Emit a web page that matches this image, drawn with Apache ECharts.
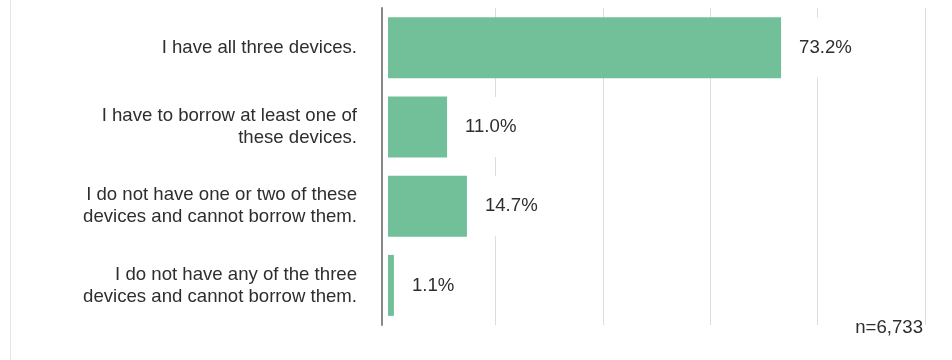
<!DOCTYPE html>
<html>
<head>
<meta charset="utf-8">
<title>Device access</title>
<script src="https://cdn.jsdelivr.net/npm/echarts@6/dist/echarts.min.js"></script>
<style>
  html, body { margin: 0; padding: 0; background: #fff; }
  #chart { width: 952px; height: 360px; }
</style>
</head>
<body>
<div id="chart"></div>
<script>
// Survey answers about device access (share of respondents, %)
const categories = [
  'I have all three devices.',
  'I have to borrow at least one of\nthese devices.',
  'I do not have one or two of these\ndevices and cannot borrow them.',
  'I do not have any of the three\ndevices and cannot borrow them.'
];
const shares = [73.2, 11.0, 14.7, 1.1];
const sampleNote = 'n=6,733';

const FONT = '"Liberation Sans", Arial, Helvetica, sans-serif';
const FS = 18.6;
const TEXT = '#2e2e2e';
const BAR = '#72c09a';

const chart = echarts.init(document.getElementById('chart'), null, { renderer: 'canvas' });

chart.setOption({
  animation: false,
  backgroundColor: '#ffffff',
  textStyle: { fontFamily: FONT },
  title: {
    text: sampleNote,
    right: 27,
    top: 303,
    padding: [15, 2, 2, 2],
    backgroundColor: '#ffffff',
    textStyle: { fontFamily: FONT, fontSize: FS, fontWeight: 'normal', color: TEXT, lineHeight: 19 }
  },
  grid: { left: 388, right: 27, top: 8, bottom: 35, containLabel: false },
  xAxis: {
    type: 'value',
    min: 0,
    max: 100,
    interval: 20,
    axisLine: { show: false },
    axisTick: { show: false },
    axisLabel: { show: false },
    splitLine: { show: true, showMinLine: false, lineStyle: { color: '#dcdcdc', width: 1 } }
  },
  yAxis: {
    type: 'category',
    data: categories,
    inverse: true,
    offset: 6,
    axisLine: { show: true, onZero: false, lineStyle: { color: '#888888', width: 2 } },
    axisTick: { show: false },
    axisLabel: {
      margin: 25,
      fontFamily: FONT,
      fontSize: FS,
      lineHeight: 22,
      color: TEXT,
      align: 'right'
    },
    splitLine: { show: false }
  },
  series: [{
    type: 'bar',
    data: shares,
    barWidth: 61,
    itemStyle: { color: BAR },
    label: {
      show: true,
      position: 'right',
      distance: 15,
      formatter: p => p.value.toFixed(1) + '%',
      fontFamily: FONT,
      fontSize: FS,
      color: TEXT,
      lineHeight: 60,
      padding: [0, 3],
      backgroundColor: '#ffffff'
    }
  }],
  graphic: [{
    type: 'line',
    shape: { x1: 10.5, y1: 0, x2: 10.5, y2: 360 },
    style: { stroke: '#e4e4e4', lineWidth: 1 },
    silent: true
  }]
});
</script>
</body>
</html>
